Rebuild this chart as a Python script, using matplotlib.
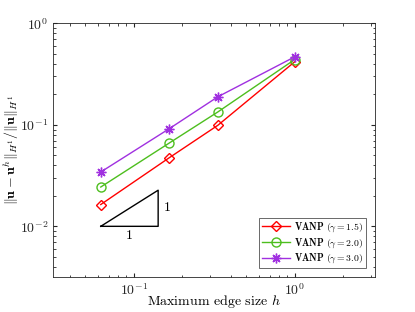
import matplotlib
matplotlib.use("Agg")
import matplotlib.pyplot as plt
import numpy as np

plt.rcParams['font.family'] = 'serif'
plt.rcParams['font.serif'] = ['cmr10', 'DejaVu Serif']
plt.rcParams['mathtext.fontset'] = 'cm'
plt.rcParams['axes.formatter.use_mathtext'] = True

h = [1.0, 1/3, 1/6, 1/16]
err_15 = [0.418, 0.099, 0.0475, 0.0164]
err_20 = [0.44, 0.134, 0.0663, 0.0244]
err_30 = [0.468, 0.189, 0.0918, 0.0343]
labels = [r"$\mathbf{VANP}$ $(\gamma = 1.5)$",
          r"$\mathbf{VANP}$ $(\gamma = 2.0)$",
          r"$\mathbf{VANP}$ $(\gamma = 3.0)$"]
colors = ['#FF0000', '#4DBE1E', '#A030E0']
markers = ['D', 'o', (8, 2, 0)]
msizes = [5.5, 6.5, 7]

# slope triangle
tri_x = [0.0625, 0.142, 0.142, 0.0625]
tri_y = [0.01, 0.01, 0.0227, 0.01]

fig = plt.figure(figsize=(4.15, 3.12), dpi=100)
ax = fig.add_axes([0.128, 0.112, 0.776, 0.813])

for y, c, m, ms, lab in zip([err_15, err_20, err_30], colors, markers, msizes, labels):
    ax.plot(h, y, color=c, marker=m, markerfacecolor='none',
            markeredgecolor=c, markersize=ms, markeredgewidth=1.0,
            linewidth=1.0, label=lab)

ax.plot(tri_x, tri_y, color='k', linewidth=1.0)
ax.text(np.sqrt(tri_x[0] * tri_x[1]), 0.0093, '1', ha='center', va='top', fontsize=10)
ax.text(tri_x[1] * 1.08, np.sqrt(tri_y[1] * tri_y[2]), '1', ha='left', va='center', fontsize=10)

ax.set_xscale('log')
ax.set_yscale('log')
ax.set_xlim(10**-1.5, 10**0.5)
ax.set_ylim(10**-2.5, 1)
ax.set_xticks([0.1, 1])
ax.set_yticks([0.01, 0.1, 1])
ax.tick_params(which='both', direction='in', top=True, right=True, colors='#262626', labelcolor='#262626', labelsize=10)
ax.tick_params(which='major', length=3)
ax.tick_params(which='minor', length=1.8)
for s in ax.spines.values():
    s.set_color('#262626')
    s.set_linewidth(0.6)

ax.set_xlabel(r"Maximum edge size $h$", fontsize=10, va='center')
ax.xaxis.set_label_coords(0.5, -0.095)
ax.set_ylabel(r"$\Vert\mathbf{u}-\mathbf{u}^h\Vert_{H^1}/\Vert\mathbf{u}\Vert_{H^1}$", fontsize=10, va='center')
ax.yaxis.set_label_coords(-0.13, 0.5)

leg = ax.legend(loc='lower right', fontsize=7, frameon=True, fancybox=False,
                edgecolor='#262626', borderpad=0.3, labelspacing=0.2, handlelength=2.9,
                handletextpad=0.4, borderaxespad=0.9)
leg.get_frame().set_linewidth(0.6)

fig.savefig('out.png', dpi=100)
